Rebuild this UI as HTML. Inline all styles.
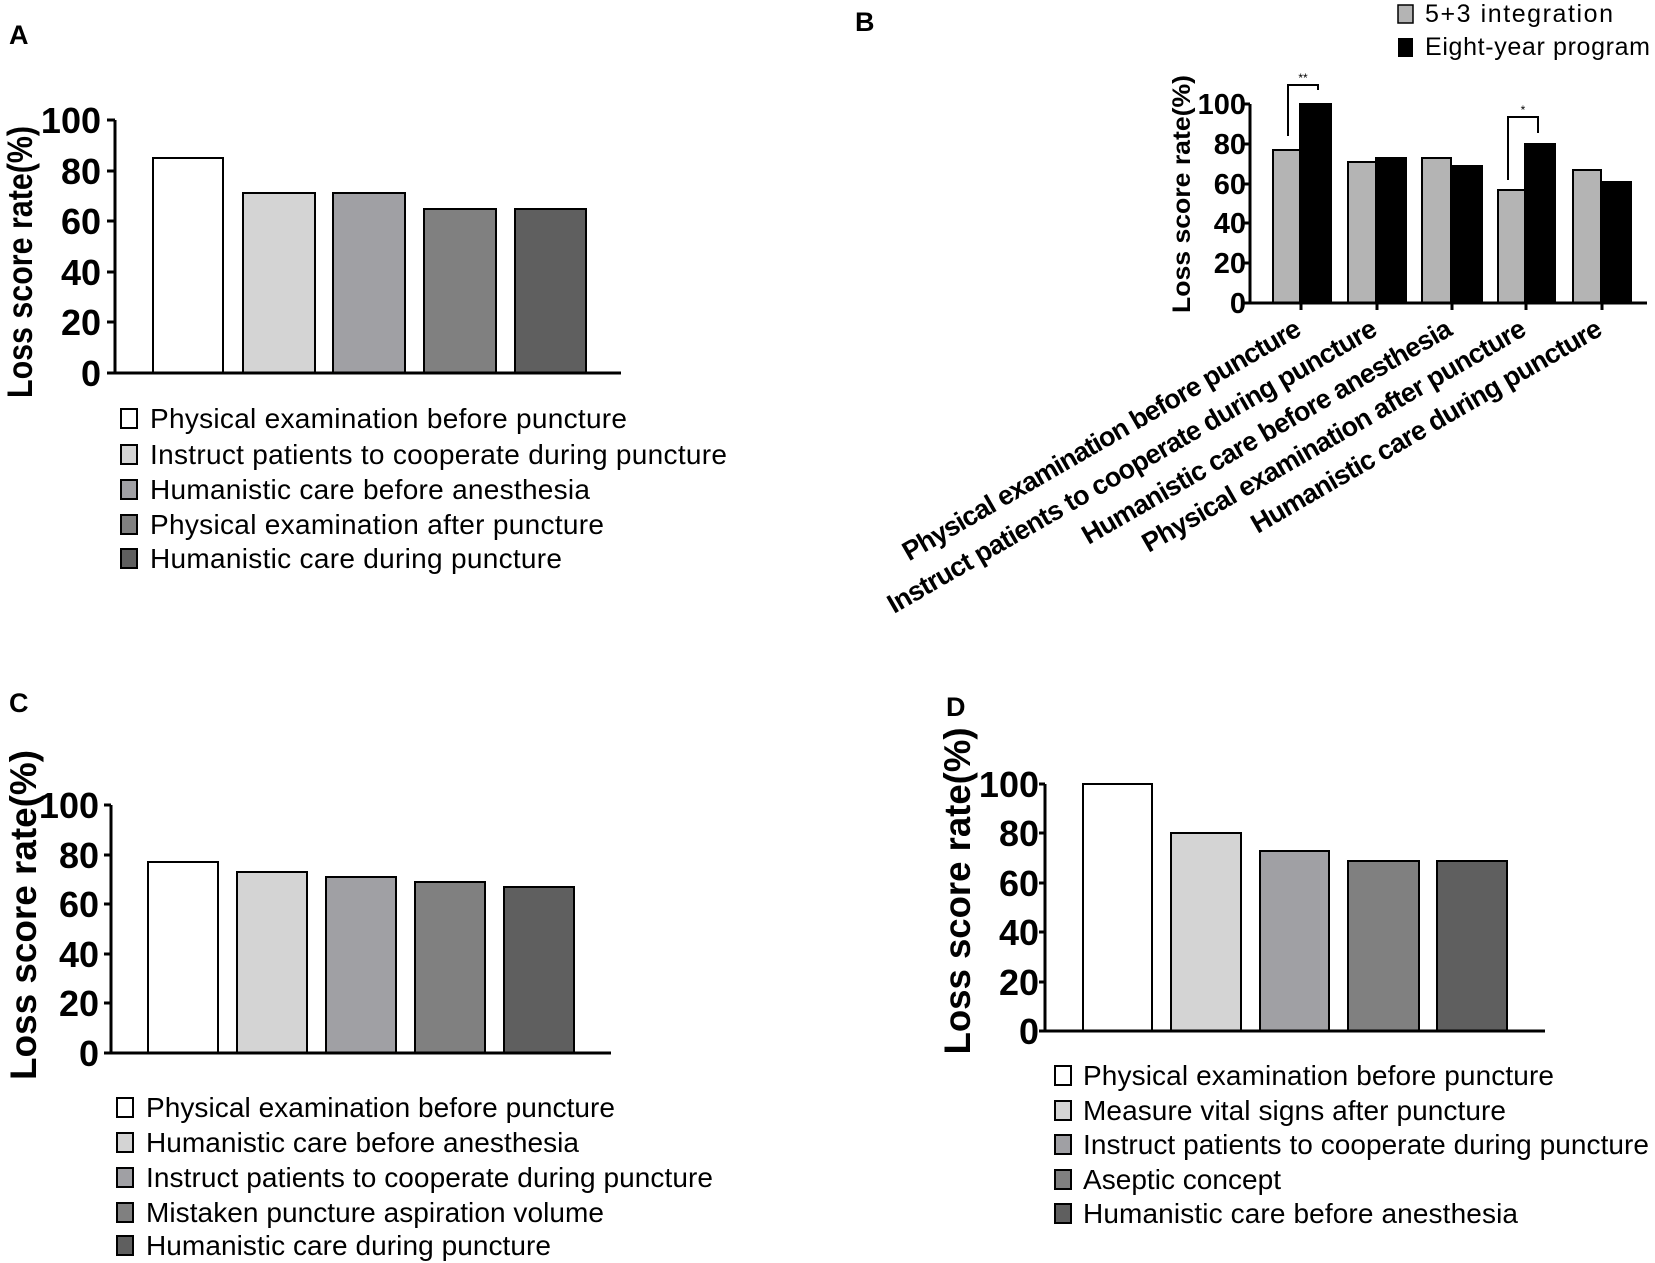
<!DOCTYPE html>
<html><head><meta charset="utf-8"><style>html,body{margin:0;padding:0;background:#fff;overflow:hidden}svg{display:block}</style></head>
<body>
<svg width="1655" height="1263" viewBox="0 0 1655 1263" xmlns="http://www.w3.org/2000/svg" font-family="Liberation Sans, Arial, sans-serif">
<g stroke="#000" stroke-width="2">
<rect x="153" y="158" width="70" height="215" fill="#fff"/>
<rect x="243" y="193" width="72" height="180" fill="#d4d4d4"/>
<rect x="333" y="193" width="72" height="180" fill="#a0a0a4"/>
<rect x="424" y="209" width="72" height="164" fill="#808080"/>
<rect x="515" y="209" width="71" height="164" fill="#5f5f5f"/>
<rect x="148" y="862" width="70" height="191" fill="#fff"/>
<rect x="237" y="872" width="70" height="181" fill="#d4d4d4"/>
<rect x="326" y="877" width="70" height="176" fill="#a0a0a4"/>
<rect x="415" y="882" width="70" height="171" fill="#808080"/>
<rect x="504" y="887" width="70" height="166" fill="#5f5f5f"/>
<rect x="1083" y="784" width="69" height="247" fill="#fff"/>
<rect x="1171" y="833" width="70" height="198" fill="#d4d4d4"/>
<rect x="1260" y="851" width="69" height="180" fill="#a0a0a4"/>
<rect x="1348" y="861" width="71" height="170" fill="#808080"/>
<rect x="1437" y="861" width="70" height="170" fill="#5f5f5f"/>
<rect x="1273" y="150" width="27" height="153" fill="#b4b4b4"/>
<rect x="1300" y="104" width="31" height="199" fill="#000"/>
<rect x="1348" y="162" width="28" height="141" fill="#b4b4b4"/>
<rect x="1376" y="158" width="30" height="145" fill="#000"/>
<rect x="1422" y="158" width="29" height="145" fill="#b4b4b4"/>
<rect x="1451" y="166" width="31" height="137" fill="#000"/>
<rect x="1498" y="190" width="27" height="113" fill="#b4b4b4"/>
<rect x="1525" y="144" width="30" height="159" fill="#000"/>
<rect x="1573" y="170" width="28" height="133" fill="#b4b4b4"/>
<rect x="1601" y="182" width="30" height="121" fill="#000"/>
</g>
<g stroke="#000" stroke-width="3" fill="none">
<path d="M115 120 V373 M107 373 H621 M107 120 H115 M107 171 H115 M107 221 H115 M107 272 H115 M107 322 H115"/>
<path d="M111 805 V1053 M104 1053 H611 M104 805 H111 M104 855 H111 M104 904 H111 M104 954 H111 M104 1003 H111"/>
<path d="M1045 784 V1031 M1039 1031 H1545 M1039 784 H1045 M1039 833 H1045 M1039 883 H1045 M1039 932 H1045 M1039 982 H1045"/>
<path d="M1250 104 V303 M1244 303 H1647 M1244 104 H1250 M1244 144 H1250 M1244 184 H1250 M1244 223 H1250 M1244 263 H1250 M1301 303 V310 M1377 303 V310 M1452 303 V310 M1526 303 V310 M1602 303 V310"/>
</g>
<g stroke="#000" stroke-width="2" fill="none">
<path d="M1288 136 V85 H1318 V90"/>
<path d="M1508 180 V117 H1538 V133"/>
</g>
<text x="1303" y="82" font-size="12" text-anchor="middle">**</text>
<text x="1523" y="114" font-size="12" text-anchor="middle">*</text>

<g font-weight="bold" font-size="27">
<text x="9" y="44">A</text>
<text x="855" y="31">B</text>
<text x="9" y="712">C</text>
<text x="946" y="716">D</text>
</g>

<g font-weight="bold" font-size="36" text-anchor="end">
<text x="101" y="133">100</text><text x="101" y="184">80</text><text x="101" y="234">60</text><text x="101" y="285">40</text><text x="101" y="335">20</text><text x="101" y="386">0</text>
<text x="99" y="818">100</text><text x="99" y="868">80</text><text x="99" y="917">60</text><text x="99" y="967">40</text><text x="99" y="1016">20</text><text x="99" y="1066">0</text>
<text x="1039" y="797">100</text><text x="1039" y="846">80</text><text x="1039" y="896">60</text><text x="1039" y="945">40</text><text x="1039" y="995">20</text><text x="1039" y="1044">0</text>
</g>
<g font-weight="bold" font-size="29" text-anchor="end">
<text x="1246" y="114">100</text><text x="1246" y="154">80</text><text x="1246" y="194">60</text><text x="1246" y="233">40</text><text x="1246" y="273">20</text><text x="1246" y="313">0</text>
</g>

<g font-weight="bold" text-anchor="middle">
<text transform="translate(32,262) rotate(-90)" font-size="35" textLength="272" lengthAdjust="spacingAndGlyphs">Loss score rate(%)</text>
<text transform="translate(36,915) rotate(-90)" font-size="37" textLength="330" lengthAdjust="spacingAndGlyphs">Loss score rate(%)</text>
<text transform="translate(970,891) rotate(-90)" font-size="37" textLength="327" lengthAdjust="spacingAndGlyphs">Loss score rate(%)</text>
<text transform="translate(1190,194) rotate(-90)" font-size="25" textLength="238" lengthAdjust="spacingAndGlyphs">Loss score rate(%)</text>
</g>

<g font-size="27" text-anchor="end" style="font-weight:600" lengthAdjust="spacingAndGlyphs">
<text transform="translate(1303,334) rotate(-30)" textLength="455">Physical examination before puncture</text>
<text transform="translate(1379,334) rotate(-30)" textLength="560">Instruct patients to cooperate during puncture</text>
<text transform="translate(1454,334) rotate(-30)" textLength="422">Humanistic care before anesthesia</text>
<text transform="translate(1528,334) rotate(-30)" textLength="438">Physical examination after puncture</text>
<text transform="translate(1604,334) rotate(-30)" textLength="400">Humanistic care during puncture</text>
</g>

<rect x="1398" y="5" width="15" height="18" fill="#b4b4b4" stroke="#000" stroke-width="1.5"/>
<rect x="1398" y="38" width="15" height="19" fill="#000"/>
<g font-size="25" lengthAdjust="spacingAndGlyphs"><text x="1425" y="22" textLength="188">5+3 integration</text><text x="1425" y="55" textLength="225">Eight-year program</text></g>

<g stroke="#000" stroke-width="2">
<rect x="121" y="409" width="16" height="19" fill="#fff"/>
<rect x="121" y="445" width="16" height="19" fill="#d4d4d4"/>
<rect x="121" y="480" width="16" height="19" fill="#a0a0a4"/>
<rect x="121" y="515" width="16" height="19" fill="#808080"/>
<rect x="121" y="549" width="16" height="19" fill="#5f5f5f"/>
<rect x="117" y="1098" width="16" height="19" fill="#fff"/>
<rect x="117" y="1133" width="16" height="19" fill="#d4d4d4"/>
<rect x="117" y="1168" width="16" height="19" fill="#a0a0a4"/>
<rect x="117" y="1203" width="16" height="19" fill="#808080"/>
<rect x="117" y="1236" width="16" height="19" fill="#5f5f5f"/>
<rect x="1055" y="1066" width="16" height="19" fill="#fff"/>
<rect x="1055" y="1101" width="16" height="19" fill="#d4d4d4"/>
<rect x="1055" y="1135" width="16" height="19" fill="#a0a0a4"/>
<rect x="1055" y="1170" width="16" height="19" fill="#808080"/>
<rect x="1055" y="1204" width="16" height="19" fill="#5f5f5f"/>
</g>
<g font-size="28" lengthAdjust="spacingAndGlyphs">
<text x="150" y="428" textLength="477">Physical examination before puncture</text>
<text x="150" y="464" textLength="577">Instruct patients to cooperate during puncture</text>
<text x="150" y="499" textLength="440">Humanistic care before anesthesia</text>
<text x="150" y="534" textLength="454">Physical examination after puncture</text>
<text x="150" y="568" textLength="412">Humanistic care during puncture</text>
<text x="146" y="1117" textLength="469">Physical examination before puncture</text>
<text x="146" y="1152" textLength="433">Humanistic care before anesthesia</text>
<text x="146" y="1187" textLength="567">Instruct patients to cooperate during puncture</text>
<text x="146" y="1222" textLength="458">Mistaken puncture aspiration volume</text>
<text x="146" y="1255" textLength="405">Humanistic care during puncture</text>
<text x="1083" y="1085" textLength="471">Physical examination before puncture</text>
<text x="1083" y="1120" textLength="423">Measure vital signs after puncture</text>
<text x="1083" y="1154" textLength="566">Instruct patients to cooperate during puncture</text>
<text x="1083" y="1189" textLength="198">Aseptic concept</text>
<text x="1083" y="1223" textLength="435">Humanistic care before anesthesia</text>
</g>
</svg>
</body></html>
